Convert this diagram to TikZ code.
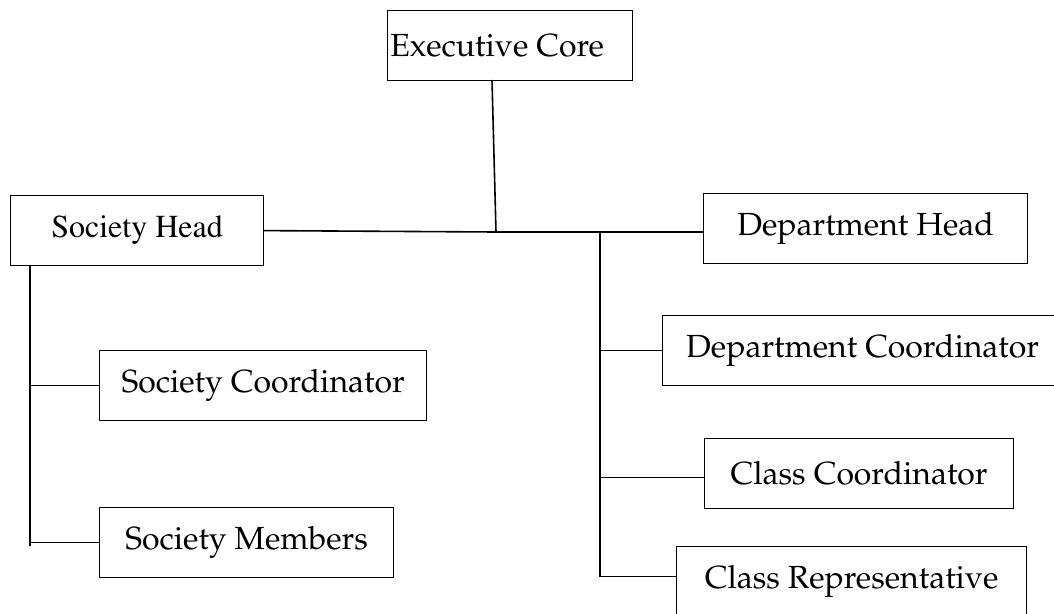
\documentclass[tikz,border=0pt]{standalone}
\usepackage[T1]{fontenc}
\usepackage{mathpazo}
\usepackage{tikz}
\usetikzlibrary{calc,positioning}

\tikzset{
  box/.style={draw, black, line width=1.2pt, rectangle, anchor=north west,
    minimum height=70pt, inner sep=0pt, font=\fontsize{32}{38}\selectfont},
  link/.style={black, line width=1.6pt}
}

\begin{document}
\begin{tikzpicture}[x=1pt,y=-1pt]
\clip (0,0) rectangle (1054,613);
\fill[white] (0,0) rectangle (1054,613);

% top of the tree
\node[box, minimum width=245pt] (exec) at (387,10) {\hspace*{-26pt}Executive Core};
\node[box, minimum width=253pt, font=\fontsize{32}{38}\fontfamily{ptm}\selectfont] (sochead) at (10,195) {Society Head};
\node[box, minimum width=324pt] (depthead) at (703,193) {Department Head};

% society side
\node[box, minimum width=327pt] (soccoord) at (99,350) {Society Coordinator};
\node[box, minimum width=294pt] (socmem) at (99,507) {Society Members};

% department side
\node[box, minimum width=400pt] (deptcoord) at (662,315) {Department Coordinator};
\node[box, minimum width=309pt] (classcoord) at (704,438) {Class Coordinator};
\node[box, minimum width=350pt] (classrep) at (676,546) {Class Representative};

\coordinate (jtop) at (492,80);
\coordinate (jmid) at (496,232);
\coordinate (lspine) at (30,265);
\coordinate (rspine) at (600,232);

\draw[link] (jtop) -- (jmid);
\draw[link] (sochead.east) -- (jmid) -- (jmid -| depthead.west);

\draw[link] (lspine) -- ($(socmem.west -| lspine)+(0,3)$);
\draw[link] (soccoord.west -| lspine) -- (soccoord.west);
\draw[link] (socmem.west -| lspine) -- (socmem.west);

\draw[link] (rspine) -- ($(classrep.west -| rspine)+(0,-5)$);
\draw[link] (deptcoord.west -| rspine) -- (deptcoord.west);
\draw[link] ($(classcoord.west -| rspine)+(0,4)$) -- ($(classcoord.west)+(0,4)$);
\draw[link] ($(classrep.west -| rspine)+(0,-5)$) -- ($(classrep.west)+(0,-5)$);
\end{tikzpicture}
\end{document}
